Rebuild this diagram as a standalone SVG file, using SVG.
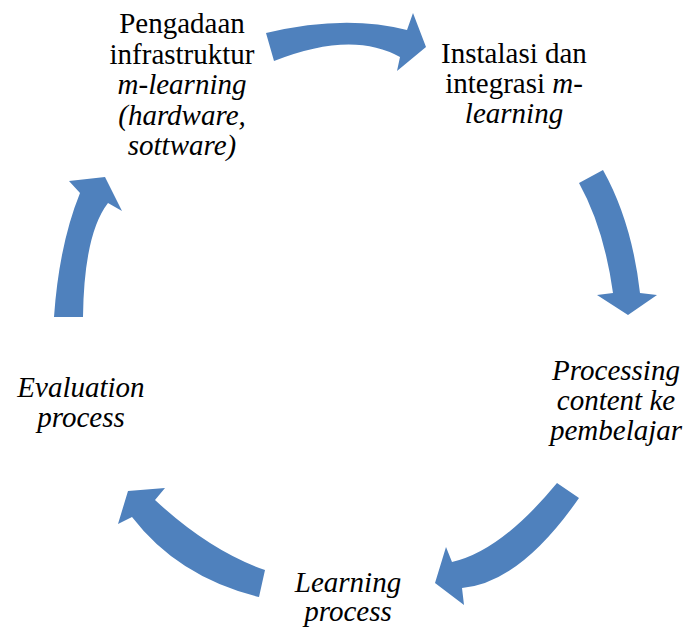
<svg xmlns="http://www.w3.org/2000/svg" width="687" height="629" viewBox="0 0 687 629">
<style>
text{font-size:29px;fill:#000;text-anchor:middle}
.i{font-style:italic}
.a{fill:#4f81bd;stroke:none}
</style>
<rect width="687" height="629" fill="#fff"/>
<g id="connectors">
<path class="a" d="M266,33 Q345,14 407,30 L413,13 L426,47 L397,71 L400,57 Q352,30 274,61 Z"/>
<path class="a" d="M579,183 L603,170 Q632,222 640,293 L657,295 L628,315 L597,295 L613,293 Q604,228 579,183 Z"/>
<path class="a" d="M557,483 L579,498 Q520,583 462,588 L464,605 L435,583 L446,547 L452,562 Q501,551 557,483 Z"/>
<path class="a" d="M265,570 L259,597 Q178,577 132,517 L118,524 L128,491 L165,488 L155,500 Q210,551 265,570 Z"/>
<path class="a" d="M83,317 L54,317 Q59,245 80,193 L69,181 L105,177 L122,211 L108,203 Q84,234 83,317 Z"/>
</g>
<g id="node1" font-family="Liberation Serif, Tinos, Times New Roman, Times, Noto Serif, DejaVu Serif, serif">
<text x="182" y="33">Pengadaan</text>
<text x="182" y="63.5">infrastruktur</text>
<text class="i" x="182" y="94">m-learning</text>
<text class="i" x="182" y="124.5">(hardware,</text>
<text class="i" x="182" y="155">sottware)</text>
</g>
<g id="node2" font-family="Liberation Serif, Tinos, Times New Roman, Times, Noto Serif, DejaVu Serif, serif">
<text x="514" y="63">Instalasi dan</text>
<text x="514" y="93">integrasi <tspan class="i">m-</tspan></text>
<text class="i" x="514" y="123">learning</text>
</g>
<g id="node3" font-family="Liberation Serif, Tinos, Times New Roman, Times, Noto Serif, DejaVu Serif, serif">
<text class="i" x="616" y="380">Processing</text>
<text class="i" x="616" y="410">content ke</text>
<text class="i" x="616" y="440">pembelajar</text>
</g>
<g id="node4" font-family="Liberation Serif, Tinos, Times New Roman, Times, Noto Serif, DejaVu Serif, serif">
<text class="i" x="348" y="592">Learning</text>
<text class="i" x="348" y="621">process</text>
</g>
<g id="node5" font-family="Liberation Serif, Tinos, Times New Roman, Times, Noto Serif, DejaVu Serif, serif">
<text class="i" x="81" y="397">Evaluation</text>
<text class="i" x="81" y="427">process</text>
</g>
</svg>
